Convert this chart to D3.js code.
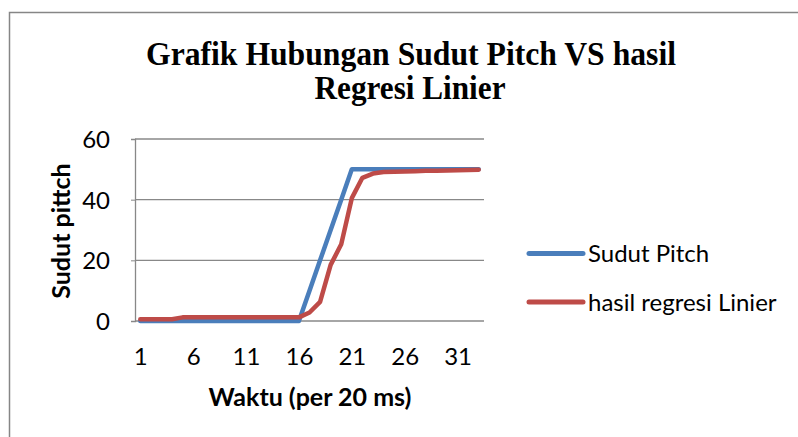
<!DOCTYPE html>
<html>
<head>
  <meta charset="utf-8">
  <title>Grafik Hubungan Sudut Pitch VS hasil Regresi Linier</title>
  <script src="https://d3js.org/d3.v7.min.js"></script>
  <style>
    html, body { margin: 0; padding: 0; background: #fff; overflow: hidden; }
    svg { display: block; }
    .tick text { font-family: Lato, "Open Sans", sans-serif; font-size: 24px; fill: #000; }
  </style>
</head>
<body>
<svg width="798" height="437"></svg>
<script>
  // data
  const categories = [1, 2, 3, 4, 5, 6, 7, 8, 9, 10, 11, 12, 13, 14, 15, 16, 17,
    18, 19, 20, 21, 22, 23, 24, 25, 26, 27, 28, 29, 30, 31, 32, 33];
  const sudutPitch = [0, 0, 0, 0, 0, 0, 0, 0, 0, 0, 0, 0, 0, 0, 0, 0,
    10, 20, 30, 40, 50, 50, 50, 50, 50, 50, 50, 50, 50, 50, 50, 50, 50];
  const regresiLinier = [0.6, 0.6, 0.6, 0.6, 1.2, 1.2, 1.2, 1.2, 1.2, 1.2, 1.2, 1.2, 1.2, 1.2, 1.2, 1.2,
    2.8, 6.3, 18.5, 25.3, 40.5, 47.2, 48.6, 49.1, 49.2, 49.3, 49.4, 49.5, 49.5, 49.6, 49.7, 49.8, 49.9];
  const yTicks = [0, 20, 40, 60];
  const xTickLabels = [1, 6, 11, 16, 21, 26, 31];

  const series = [
    { name: "Sudut Pitch", values: sudutPitch, color: "#4a7ebb" },
    { name: "hasil regresi Linier", values: regresiLinier, color: "#be4b48" }
  ];

  const svg = d3.select("svg");

  // chart frame
  svg.append("rect")
    .attr("x", 9.5).attr("y", 12.5)
    .attr("width", 800).attr("height", 440)
    .attr("fill", "#fff")
    .attr("stroke", "#868686")
    .attr("stroke-width", 1.5);

  const x = d3.scalePoint()
    .domain(categories)
    .range([135, 484])
    .padding(0.5);

  const y = d3.scaleLinear()
    .domain([0, 60])
    .range([321, 139]);

  // gridlines
  svg.append("g")
    .selectAll("line")
    .data(yTicks)
    .join("line")
    .attr("x1", 135).attr("x2", 484)
    .attr("y1", d => y(d)).attr("y2", d => y(d))
    .attr("stroke", "#888")
    .attr("stroke-width", 1.3);

  // y axis
  const yAxis = svg.append("g")
    .attr("transform", "translate(135,0)")
    .call(d3.axisLeft(y).tickValues(yTicks).tickSize(4).tickPadding(21));
  yAxis.select(".domain").attr("stroke", "#888").attr("stroke-width", 1.3);
  yAxis.selectAll(".tick line").attr("stroke", "#888");
  yAxis.selectAll(".tick text").attr("dy", "0.36em");

  // x axis (labels only)
  const xAxis = svg.append("g")
    .attr("transform", "translate(0,321)")
    .call(d3.axisBottom(x).tickValues(xTickLabels).tickSize(0).tickPadding(27));
  xAxis.select(".domain").remove();

  // series lines
  const line = d3.line()
    .x((d, i) => x(categories[i]))
    .y(d => y(d));

  svg.append("g")
    .selectAll("path")
    .data(series)
    .join("path")
    .attr("d", d => line(d.values))
    .attr("fill", "none")
    .attr("stroke", d => d.color)
    .attr("stroke-width", 4.5)
    .attr("stroke-linejoin", "round")
    .attr("stroke-linecap", "round");

  // title
  const title = svg.append("g")
    .attr("font-family", "'Liberation Serif', 'Times New Roman', serif")
    .attr("font-weight", "bold")
    .attr("font-size", 33)
    .attr("text-anchor", "middle");
  title.append("text")
    .attr("x", 411).attr("y", 65)
    .attr("textLength", 530).attr("lengthAdjust", "spacingAndGlyphs")
    .text("Grafik Hubungan Sudut Pitch VS hasil");
  title.append("text")
    .attr("x", 410).attr("y", 99)
    .attr("textLength", 191).attr("lengthAdjust", "spacingAndGlyphs")
    .text("Regresi Linier");

  // axis titles
  svg.append("text")
    .attr("transform", "translate(70,231) rotate(-90)")
    .attr("text-anchor", "middle")
    .attr("font-family", "Lato, 'Open Sans', sans-serif")
    .attr("font-weight", "bold")
    .attr("font-size", 25)
    .text("Sudut pittch");

  svg.append("text")
    .attr("x", 310).attr("y", 406)
    .attr("text-anchor", "middle")
    .attr("font-family", "Lato, 'Open Sans', sans-serif")
    .attr("font-weight", "bold")
    .attr("font-size", 25)
    .text("Waktu (per 20 ms)");

  // legend
  const legend = svg.append("g")
    .selectAll("g")
    .data(series)
    .join("g")
    .attr("transform", (d, i) => `translate(529,${253.5 + i * 48.5})`);
  legend.append("line")
    .attr("x1", 0).attr("x2", 54)
    .attr("stroke", d => d.color)
    .attr("stroke-width", 5)
    .attr("stroke-linecap", "round");
  legend.append("text")
    .attr("x", 59).attr("dy", "0.36em")
    .attr("font-family", "Lato, 'Open Sans', sans-serif")
    .attr("font-size", 24)
    .text(d => d.name);
</script>
</body>
</html>
